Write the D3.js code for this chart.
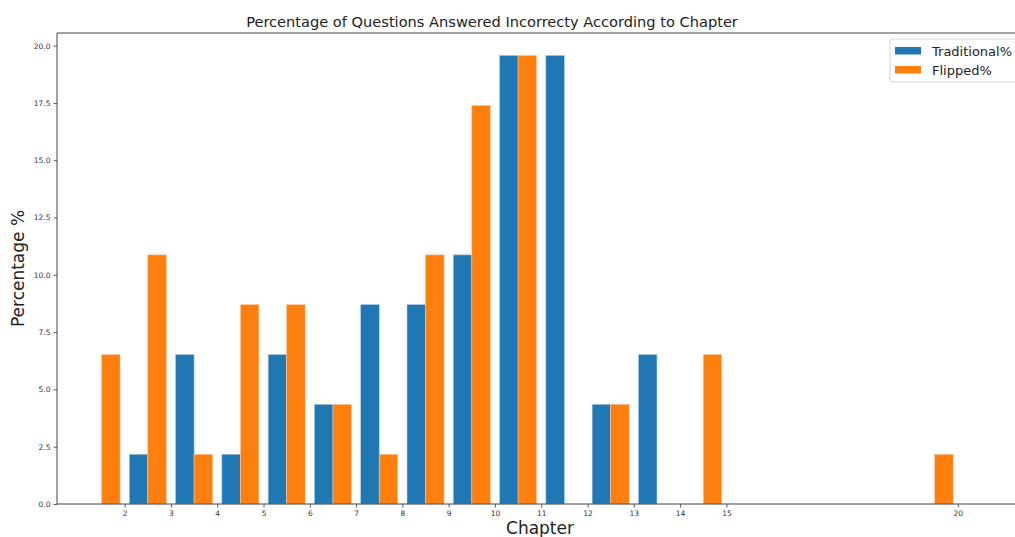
<!DOCTYPE html>
<html>
<head>
<meta charset="utf-8">
<script src="https://cdn.jsdelivr.net/npm/d3@7"></script>
<style>
  body { margin: 0; background: #fff; overflow: hidden; }
  svg { display: block; }
  text { font-family: "DejaVu Sans", sans-serif; }
</style>
</head>
<body>
<div id="chart"></div>
<script>
const chapters = [2, 3, 4, 5, 6, 7, 8, 9, 10, 11, 12, 13, 14, 15, 20];
const traditional = [0, 2.17, 6.52, 2.17, 6.52, 4.35, 8.70, 8.70, 10.87, 19.57, 19.57, 4.35, 6.52, 0, 0];
const flipped = [6.52, 10.87, 2.17, 8.70, 8.70, 4.35, 2.17, 10.87, 17.39, 19.57, 0, 4.35, 0, 6.52, 2.17];
const yTicks = [0, 2.5, 5, 7.5, 10, 12.5, 15, 17.5, 20];

const width = 1015;
const height = 537;
const margin = { top: 33, right: -3, bottom: 33, left: 57 };
const barW = 0.4;

const svg = d3.select("#chart")
              .append("svg")
              .attr("width", width)
              .attr("height", height);

const xScale = d3.scaleLinear()
                 .domain([0.538, 21.3])
                 .range([margin.left, width - margin.right]);

const yScale = d3.scaleLinear()
                 .domain([0, 20.55])
                 .range([height - margin.bottom, margin.top]);

// bars: each pair sits half a unit left of its chapter tick
const bars = svg.append("g");
chapters.forEach((c, i) => {
    const center = c - 0.5;
    if (traditional[i] > 0) {
        bars.append("rect")
            .attr("x", xScale(center - barW))
            .attr("y", yScale(traditional[i]))
            .attr("width", xScale(center) - xScale(center - barW))
            .attr("height", yScale(0) - yScale(traditional[i]))
            .attr("fill", "#1f77b4")
            .attr("stroke", "#a9c8e0")
            .attr("stroke-width", 0.6);
    }
    if (flipped[i] > 0) {
        bars.append("rect")
            .attr("x", xScale(center))
            .attr("y", yScale(flipped[i]))
            .attr("width", xScale(center + barW) - xScale(center))
            .attr("height", yScale(0) - yScale(flipped[i]))
            .attr("fill", "#ff7f0e")
            .attr("stroke", "#ffc9a0")
            .attr("stroke-width", 0.6);
    }
});

// axes
const xAxis = d3.axisBottom(xScale)
                .tickValues(chapters)
                .tickSize(3.5)
                .tickPadding(3)
                .tickFormat(d3.format("d"));

const yAxis = d3.axisLeft(yScale)
                .tickValues(yTicks)
                .tickSize(3.5)
                .tickPadding(3)
                .tickFormat(d3.format(".1f"));

const gx = svg.append("g")
              .attr("transform", `translate(0,${height - margin.bottom})`)
              .call(xAxis);
const gy = svg.append("g")
              .attr("transform", `translate(${margin.left},0)`)
              .call(yAxis);

[gx, gy].forEach(g => {
    g.select(".domain").remove();
    g.selectAll(".tick line").attr("stroke", "#333").attr("stroke-width", 0.8);
    g.selectAll(".tick text")
     .attr("fill", "#333")
     .style("font-family", "DejaVu Sans")
     .style("font-size", "7.5px");
});

// spines
const spine = svg.append("g").attr("stroke", "#444").attr("stroke-width", 1);
spine.append("line")
     .attr("x1", margin.left).attr("x2", width)
     .attr("y1", yScale(0)).attr("y2", yScale(0));
spine.append("line")
     .attr("x1", margin.left).attr("x2", width)
     .attr("y1", margin.top).attr("y2", margin.top);
spine.append("line")
     .attr("x1", margin.left).attr("x2", margin.left)
     .attr("y1", margin.top).attr("y2", yScale(0));

// title and axis labels
svg.append("text")
   .attr("x", 492)
   .attr("y", 27)
   .attr("text-anchor", "middle")
   .attr("fill", "#222")
   .style("font-size", "14.6px")
   .text("Percentage of Questions Answered Incorrecty According to Chapter");

svg.append("text")
   .attr("x", 540)
   .attr("y", 534)
   .attr("text-anchor", "middle")
   .attr("fill", "#222")
   .style("font-size", "17px")
   .text("Chapter");

svg.append("text")
   .attr("transform", `translate(24,${(margin.top + yScale(0)) / 2}) rotate(-90)`)
   .attr("text-anchor", "middle")
   .attr("fill", "#222")
   .style("font-size", "17px")
   .text("Percentage %");

// legend
const legend = svg.append("g");
legend.append("rect")
      .attr("x", 890).attr("y", 39)
      .attr("width", 130).attr("height", 43)
      .attr("rx", 3)
      .attr("fill", "white")
      .attr("stroke", "#ccc")
      .attr("stroke-width", 0.8);

const legendItems = [
    { name: "Traditional%", color: "#1f77b4" },
    { name: "Flipped%", color: "#ff7f0e" }
];
legendItems.forEach((d, i) => {
    const y = 47 + i * 19;
    legend.append("rect")
          .attr("x", 895).attr("y", y)
          .attr("width", 26).attr("height", 7.5)
          .attr("fill", d.color);
    legend.append("text")
          .attr("x", 932)
          .attr("y", y + 9)
          .attr("fill", "#222")
          .style("font-size", "13px")
          .text(d.name);
});
</script>
</body>
</html>
